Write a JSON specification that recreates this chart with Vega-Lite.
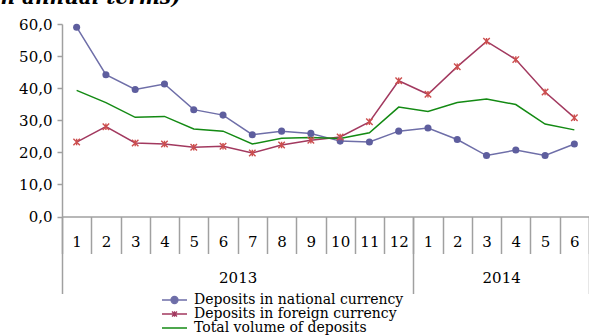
{
  "$schema": "https://vega.github.io/schema/vega-lite/v6.json",
  "width": 527,
  "height": 192.5,
  "autosize": {"type": "none"},
  "padding": {"left": 62, "top": 24, "right": 0, "bottom": 119.5},
  "background": "white",
  "title": {"text": "in annual terms)", "anchor": "start", "frame": "group", "orient": "top", "offset": 0, "dx": -69, "dy": 7, "baseline": "alphabetic", "font": "DejaVu Serif", "fontStyle": "italic", "fontWeight": "bold", "fontSize": 20, "color": "black"},
  "config": {"view": {"stroke": null}},
  "data": {"values": [
    {"t": 1, "month": 1, "year": 2013, "series": "Deposits in national currency", "value": 59.0},
    {"t": 2, "month": 2, "year": 2013, "series": "Deposits in national currency", "value": 44.2},
    {"t": 3, "month": 3, "year": 2013, "series": "Deposits in national currency", "value": 39.6},
    {"t": 4, "month": 4, "year": 2013, "series": "Deposits in national currency", "value": 41.3},
    {"t": 5, "month": 5, "year": 2013, "series": "Deposits in national currency", "value": 33.3},
    {"t": 6, "month": 6, "year": 2013, "series": "Deposits in national currency", "value": 31.6},
    {"t": 7, "month": 7, "year": 2013, "series": "Deposits in national currency", "value": 25.5},
    {"t": 8, "month": 8, "year": 2013, "series": "Deposits in national currency", "value": 26.6},
    {"t": 9, "month": 9, "year": 2013, "series": "Deposits in national currency", "value": 25.9},
    {"t": 10, "month": 10, "year": 2013, "series": "Deposits in national currency", "value": 23.5},
    {"t": 11, "month": 11, "year": 2013, "series": "Deposits in national currency", "value": 23.2},
    {"t": 12, "month": 12, "year": 2013, "series": "Deposits in national currency", "value": 26.6},
    {"t": 13, "month": 1, "year": 2014, "series": "Deposits in national currency", "value": 27.6},
    {"t": 14, "month": 2, "year": 2014, "series": "Deposits in national currency", "value": 24.0},
    {"t": 15, "month": 3, "year": 2014, "series": "Deposits in national currency", "value": 19.0},
    {"t": 16, "month": 4, "year": 2014, "series": "Deposits in national currency", "value": 20.7},
    {"t": 17, "month": 5, "year": 2014, "series": "Deposits in national currency", "value": 19.0},
    {"t": 18, "month": 6, "year": 2014, "series": "Deposits in national currency", "value": 22.6},
    {"t": 1, "month": 1, "year": 2013, "series": "Deposits in foreign currency", "value": 23.2},
    {"t": 2, "month": 2, "year": 2013, "series": "Deposits in foreign currency", "value": 28.0},
    {"t": 3, "month": 3, "year": 2013, "series": "Deposits in foreign currency", "value": 22.9},
    {"t": 4, "month": 4, "year": 2013, "series": "Deposits in foreign currency", "value": 22.6},
    {"t": 5, "month": 5, "year": 2013, "series": "Deposits in foreign currency", "value": 21.6},
    {"t": 6, "month": 6, "year": 2013, "series": "Deposits in foreign currency", "value": 21.9},
    {"t": 7, "month": 7, "year": 2013, "series": "Deposits in foreign currency", "value": 19.8},
    {"t": 8, "month": 8, "year": 2013, "series": "Deposits in foreign currency", "value": 22.3},
    {"t": 9, "month": 9, "year": 2013, "series": "Deposits in foreign currency", "value": 23.8},
    {"t": 10, "month": 10, "year": 2013, "series": "Deposits in foreign currency", "value": 24.8},
    {"t": 11, "month": 11, "year": 2013, "series": "Deposits in foreign currency", "value": 29.5},
    {"t": 12, "month": 12, "year": 2013, "series": "Deposits in foreign currency", "value": 42.3},
    {"t": 13, "month": 1, "year": 2014, "series": "Deposits in foreign currency", "value": 38.1},
    {"t": 14, "month": 2, "year": 2014, "series": "Deposits in foreign currency", "value": 46.7},
    {"t": 15, "month": 3, "year": 2014, "series": "Deposits in foreign currency", "value": 54.6},
    {"t": 16, "month": 4, "year": 2014, "series": "Deposits in foreign currency", "value": 48.9},
    {"t": 17, "month": 5, "year": 2014, "series": "Deposits in foreign currency", "value": 38.8},
    {"t": 18, "month": 6, "year": 2014, "series": "Deposits in foreign currency", "value": 30.8},
    {"t": 1, "month": 1, "year": 2013, "series": "Total volume of deposits", "value": 39.3},
    {"t": 2, "month": 2, "year": 2013, "series": "Total volume of deposits", "value": 35.5},
    {"t": 3, "month": 3, "year": 2013, "series": "Total volume of deposits", "value": 30.9},
    {"t": 4, "month": 4, "year": 2013, "series": "Total volume of deposits", "value": 31.2},
    {"t": 5, "month": 5, "year": 2013, "series": "Total volume of deposits", "value": 27.3},
    {"t": 6, "month": 6, "year": 2013, "series": "Total volume of deposits", "value": 26.6},
    {"t": 7, "month": 7, "year": 2013, "series": "Total volume of deposits", "value": 22.6},
    {"t": 8, "month": 8, "year": 2013, "series": "Total volume of deposits", "value": 24.4},
    {"t": 9, "month": 9, "year": 2013, "series": "Total volume of deposits", "value": 24.6},
    {"t": 10, "month": 10, "year": 2013, "series": "Total volume of deposits", "value": 24.3},
    {"t": 11, "month": 11, "year": 2013, "series": "Total volume of deposits", "value": 26.1},
    {"t": 12, "month": 12, "year": 2013, "series": "Total volume of deposits", "value": 34.1},
    {"t": 13, "month": 1, "year": 2014, "series": "Total volume of deposits", "value": 32.7},
    {"t": 14, "month": 2, "year": 2014, "series": "Total volume of deposits", "value": 35.5},
    {"t": 15, "month": 3, "year": 2014, "series": "Total volume of deposits", "value": 36.6},
    {"t": 16, "month": 4, "year": 2014, "series": "Total volume of deposits", "value": 34.9},
    {"t": 17, "month": 5, "year": 2014, "series": "Total volume of deposits", "value": 28.8},
    {"t": 18, "month": 6, "year": 2014, "series": "Total volume of deposits", "value": 27.0}
  ]},
  "encoding": {
    "y": {"field": "value", "type": "quantitative", "scale": {"domain": [0, 60], "nice": false},
      "axis": {"title": null, "values": [0, 10, 20, 30, 40, 50, 60], "labelExpr": "replace(format(datum.value, '.1f'), '.', ',')", "grid": false, "domainColor": "#a0a0a0", "domainWidth": 1.5, "tickColor": "#a0a0a0", "tickSize": 5, "tickWidth": 1.5, "labelPadding": 5, "labelFont": "DejaVu Serif", "labelFontSize": 15, "labelColor": "black"}}
  },
  "layer": [
    {
      "transform": [{"filter": "datum.series === 'Deposits in national currency'"}],
      "mark": {"type": "line", "color": "#6E6EA8", "strokeWidth": 1.5},
      "encoding": {"x": {"field": "t", "type": "quantitative", "scale": {"domain": [0.5, 18.5], "nice": false, "zero": false},
        "axis": {"orient": "bottom", "title": null, "values": [0.5, 1.5, 2.5, 3.5, 4.5, 5.5, 6.5, 7.5, 8.5, 9.5, 10.5, 11.5, 12.5, 13.5, 14.5, 15.5, 16.5, 17.5, 18.5], "labelExpr": "datum.value > 18 ? '' : (datum.value + 0.5 <= 12 ? datum.value + 0.5 : datum.value - 11.5)", "labelOffset": 14.64, "labelBaseline": "middle", "labelPadding": -12, "labelFlush": false, "labelOverlap": false, "labelBound": false, "tickSize": 37, "tickColor": "#a0a0a0", "tickWidth": 1.5, "domainColor": "#a0a0a0", "domainWidth": 1.5, "grid": false, "labelFont": "DejaVu Serif", "labelFontSize": 15, "labelColor": "black"}}}
    },
    {
      "transform": [{"filter": "datum.series === 'Deposits in foreign currency'"}],
      "mark": {"type": "line", "color": "#A2395F", "strokeWidth": 1.5},
      "encoding": {"x": {"field": "t", "type": "quantitative", "scale": {"domain": [0.5, 18.5], "nice": false, "zero": false},
        "axis": {"orient": "bottom", "title": null, "values": [0.5, 12.5, 18.5], "labels": false, "domain": false, "grid": false, "tickSize": 77, "tickColor": "#a0a0a0", "tickWidth": 1.5}}}
    },
    {
      "transform": [{"filter": "datum.series === 'Total volume of deposits'"}],
      "mark": {"type": "line", "color": "#138A13", "strokeWidth": 1.5},
      "encoding": {"x": {"field": "t", "type": "quantitative", "scale": {"domain": [0.5, 18.5], "nice": false, "zero": false},
        "axis": {"orient": "bottom", "title": null, "values": [6.5, 15.5], "ticks": false, "domain": false, "grid": false, "labelExpr": "datum.value < 12 ? '2013' : '2014'", "labelBaseline": "middle", "labelPadding": 60.5, "labelFont": "DejaVu Serif", "labelFontSize": 15, "labelColor": "black", "labelFlush": false}}}
    },
    {
      "transform": [{"filter": "datum.series === 'Deposits in national currency'"}],
      "mark": {"type": "point", "shape": "circle", "filled": true, "size": 50, "color": "#5E5E9E", "opacity": 1},
      "encoding": {"x": {"field": "t", "type": "quantitative", "scale": {"domain": [0.5, 18.5], "nice": false, "zero": false}, "axis": null}}
    },
    {
      "transform": [{"filter": "datum.series === 'Deposits in foreign currency'"}],
      "mark": {"type": "point", "shape": "M-1,-1L1,1M-1,1L1,-1M0,-1L0,1", "filled": false, "size": 42, "color": "#CC4E4E", "strokeWidth": 1.4, "opacity": 1},
      "encoding": {"x": {"field": "t", "type": "quantitative", "scale": {"domain": [0.5, 18.5], "nice": false, "zero": false}, "axis": null}}
    },
    {
      "mark": {"type": "point", "filled": true, "opacity": 0},
      "encoding": {
        "x": {"field": "t", "type": "quantitative", "scale": {"domain": [0.5, 18.5], "nice": false, "zero": false}, "axis": null},
        "color": {"field": "series", "type": "nominal",
          "scale": {"domain": ["Deposits in national currency", "Deposits in foreign currency", "Total volume of deposits"], "range": ["#6E6EA8", "#A2395F", "#138A13"]},
          "legend": {"title": null, "orient": "none", "legendX": 99, "legendY": 269, "direction": "vertical", "symbolSize": 625, "symbolStrokeWidth": 1.3, "symbolOpacity": 1, "clipHeight": 14, "rowPadding": 0, "labelOffset": 6, "labelFont": "DejaVu Serif", "labelFontSize": 14, "labelColor": "black", "labelLimit": 400,
            "encode": {"symbols": {"update": {"fill": {"scale": "color", "field": "value"}, "stroke": {"scale": "color", "field": "value"}, "strokeWidth": {"value": 1.3}, "opacity": {"value": 1}}}}}},
        "shape": {"field": "series", "type": "nominal",
          "scale": {"domain": ["Deposits in national currency", "Deposits in foreign currency", "Total volume of deposits"], "range": ["M-1,0H1M0.28,0A0.28,0.28,0,1,1,-0.28,0A0.28,0.28,0,1,1,0.28,0Z", "M-1,0H1M-0.2,-0.2L0.2,0.2M-0.2,0.2L0.2,-0.2M0,-0.22L0,0.22", "M-1,0H1"]},
          "legend": {"title": null, "orient": "none", "legendX": 99, "legendY": 269, "direction": "vertical", "symbolSize": 625, "symbolStrokeWidth": 1.3, "symbolOpacity": 1, "clipHeight": 14, "rowPadding": 0, "labelOffset": 6, "labelFont": "DejaVu Serif", "labelFontSize": 14, "labelColor": "black", "labelLimit": 400,
            "encode": {"symbols": {"update": {"fill": {"scale": "color", "field": "value"}, "stroke": {"scale": "color", "field": "value"}, "strokeWidth": {"value": 1.3}, "opacity": {"value": 1}}}}}}
      }
    }
  ],
  "resolve": {"axis": {"x": "independent"}}
}
